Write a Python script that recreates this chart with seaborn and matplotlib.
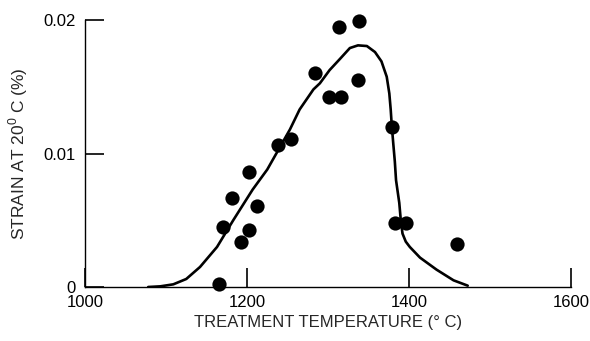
import matplotlib
matplotlib.use("Agg")
import matplotlib.pyplot as plt
import seaborn as sns
import pandas as pd

# Measured strain at 20 °C after heat treatment
temp_c = [1165, 1170, 1182, 1193, 1203, 1203, 1212, 1238, 1254, 1284,
          1301, 1316, 1314, 1338, 1337, 1379, 1383, 1396, 1459]
strain_pct = [0.0002, 0.0045, 0.0067, 0.0034, 0.0043, 0.0086, 0.0061, 0.0106,
              0.0111, 0.0160, 0.0142, 0.0142, 0.0195, 0.0199, 0.0155, 0.0120,
              0.0048, 0.0048, 0.0032]

# Hand-faired trend curve through the data
curve_t = [1078, 1093, 1109, 1125, 1142, 1163, 1183, 1207, 1225, 1253, 1265,
           1282, 1290, 1302, 1315, 1327, 1337, 1348, 1358, 1366, 1372.5,
           1375.7, 1377.4, 1378.6, 1380.5, 1382.5, 1384, 1388, 1390, 1392,
           1396, 1401, 1413.6, 1434, 1455, 1472.5]
curve_s = [0.0, 0.00005, 0.0002, 0.0006, 0.0015, 0.0030, 0.0050, 0.0073,
           0.0088, 0.0118, 0.0133, 0.0148, 0.01526, 0.01625, 0.0171, 0.0179,
           0.0181, 0.01805, 0.0176, 0.0169, 0.01575, 0.0145, 0.0133, 0.0122,
           0.0108, 0.0094, 0.0080, 0.0063, 0.0049, 0.0040, 0.0034, 0.0030,
           0.0022, 0.0013, 0.0005, 0.0001]

x_ticks = [1000, 1200, 1400, 1600]
x_tick_labels = ["1000", "1200", "1400", "1600"]
y_ticks = [0, 0.01, 0.02]
y_tick_labels = ["0", "0.01", "0.02"]

sns.set_style("white")
plt.rcParams["font.family"] = ["Liberation Sans", "DejaVu Sans"]
plt.rcParams["mathtext.fontset"] = "custom"
plt.rcParams["mathtext.rm"] = "Liberation Sans"

fig = plt.figure(figsize=(5.9, 3.41), dpi=100)
ax = fig.add_axes([85 / 590, 1 - 287 / 341, (571 - 85) / 590, (287 - 20) / 341])

points = pd.DataFrame({"t": temp_c, "s": strain_pct})
curve = pd.DataFrame({"t": curve_t, "s": curve_s})

sns.lineplot(data=curve, x="t", y="s", sort=False, color="black", lw=1.9, ax=ax)
sns.scatterplot(data=points, x="t", y="s", color="black", s=105,
                edgecolor="black", linewidth=0, ax=ax, zorder=3, clip_on=False)

ax.set_xlim(1000, 1600)
ax.set_ylim(0, 0.02)
ax.set_xticks(x_ticks)
ax.set_xticklabels(x_tick_labels)
ax.set_yticks(y_ticks)
ax.set_yticklabels(y_tick_labels)

for side in ("top", "right"):
    ax.spines[side].set_visible(False)
for side in ("left", "bottom"):
    ax.spines[side].set_color("black")
    ax.spines[side].set_linewidth(1.0)

ax.tick_params(axis="x", bottom=True, direction="in", length=14, width=1.2,
               pad=6, labelsize=12, colors="black")
ax.tick_params(axis="y", left=True, direction="in", length=14, width=1.2,
               pad=7, labelsize=12, colors="black")

ax.set_xlabel("TREATMENT TEMPERATURE (° C)", fontsize=12, labelpad=3)
ax.set_ylabel("STRAIN AT 20$^{0}$ C (%)", fontsize=12.5, labelpad=9)

fig.savefig("out.png", dpi=100, facecolor="white")
